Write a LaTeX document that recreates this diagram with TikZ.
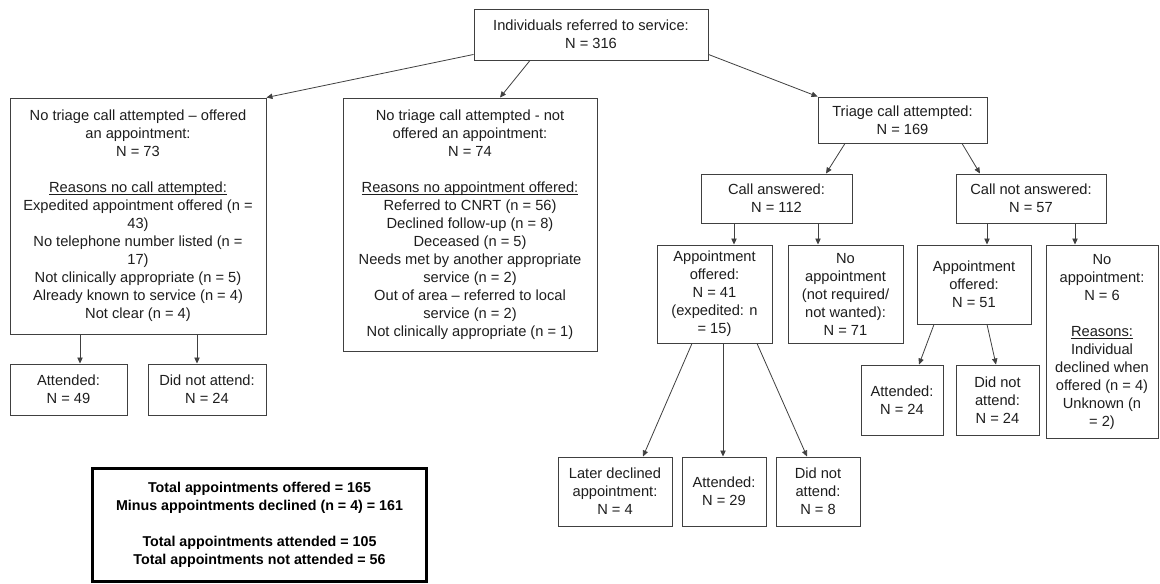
\documentclass[tikz,border=0pt]{standalone}
\usepackage{fontspec}
\setmainfont{Liberation Sans}
\usepackage{tikz}
\usetikzlibrary{calc,arrows.meta}
\definecolor{ink}{HTML}{1E1E1E}
\definecolor{frame}{HTML}{404040}
\newcommand{\ulhead}[1]{\underline{\smash{#1}}}
\tikzset{
  box/.style={draw=frame, line width=0.7pt, fill=white, align=center, inner sep=1pt, text=ink, font=\fontsize{11}{13.5}\selectfont},
  sumbox/.style={draw=black, line width=2.4pt, fill=white, align=center, inner sep=1pt, text=black, font=\bfseries\fontsize{10.7}{13.5}\selectfont},
  arr/.style={draw=frame, line width=0.6pt, -{Triangle[length=4.5pt,width=4pt]}}
}

\begin{document}
\begin{tikzpicture}[x=0.75pt,y=-0.75pt]
\path[fill=white] (0,0) rectangle (1160,584);
\node[box, minimum width=175.5pt, minimum height=38.25pt] (root) at (591,34.5) {Individuals referred to service:\\N = 316};
\node[box, minimum width=192pt, minimum height=177pt] (notri) at (138,216) {No triage call attempted – offered\\an appointment:\\N = 73\\[13.5pt]\ulhead{Reasons no call attempted:}\\Expedited appointment offered (n =\\43)\\No telephone number listed (n =\\17)\\Not clinically appropriate (n = 5)\\Already known to service (n = 4)\\Not clear (n = 4)};
\node[box, minimum width=190.5pt, minimum height=189.75pt] (noappt) at (470,224.5) {No triage call attempted - not\\offered an appointment:\\N = 74\\[13.5pt]\ulhead{Reasons no appointment offered:}\\Referred to CNRT (n = 56)\\Declined follow-up (n = 8)\\Deceased (n = 5)\\Needs met by another appropriate\\service (n = 2)\\Out of area – referred to local\\service (n = 2)\\Not clinically appropriate (n = 1)};
\node[box, minimum width=126.75pt, minimum height=34.5pt] (triage) at (902.5,120) {Triage call attempted:\\N = 169};
\node[box, minimum width=113.25pt, minimum height=36.75pt] (answered) at (776.5,198.5) {Call answered:\\N = 112};
\node[box, minimum width=112.5pt, minimum height=36.75pt] (unanswered) at (1031,198.5) {Call not answered:\\N = 57};
\node[box, minimum width=86.25pt, minimum height=73.5pt] (offeredA) at (714.5,294) {Appointment\\offered:\\N = 41\\(expedited: n\\= 15)};
\node[box, minimum width=86.25pt, minimum height=73.5pt] (notwanted) at (845.5,294) {No\\appointment\\(not required/\\not wanted):\\N = 71};
\node[box, minimum width=85.5pt, minimum height=59.25pt] (offeredB) at (974,284.5) {Appointment\\offered:\\N = 51};
\node[box, minimum width=84pt, minimum height=144.75pt] (noapptB) at (1102,341.5) {No\\appointment:\\N = 6\\[13.5pt]\ulhead{Reasons:}\\Individual\\declined when\\offered (n = 4)\\Unknown (n\\= 2)};
\node[box, minimum width=61.5pt, minimum height=52.5pt] (attB) at (902,400) {Attended:\\N = 24};
\node[box, minimum width=62.25pt, minimum height=52.5pt] (dnaB) at (997.5,400) {Did not\\attend:\\N = 24};
\node[box, minimum width=85.5pt, minimum height=51.75pt] (declined) at (615,491.5) {Later declined\\appointment:\\N = 4};
\node[box, minimum width=63pt, minimum height=51.75pt] (attF) at (724,491.5) {Attended:\\N = 29};
\node[box, minimum width=63pt, minimum height=51.75pt] (dnaF) at (818,491.5) {Did not\\attend:\\N = 8};
\node[box, minimum width=87.75pt, minimum height=38.25pt] (attA) at (68.5,389.5) {Attended:\\N = 49};
\node[box, minimum width=88.5pt, minimum height=38.25pt] (dnaA) at (207,389.5) {Did not attend:\\N = 24};
\node[sumbox, minimum width=250.5pt, minimum height=85pt] (totals) at (259.5,525) {Total appointments offered = 165\\Minus appointments declined (n = 4) = 161\\[13.5pt]Total appointments attended = 105\\Total appointments not attended = 56};
\draw[arr] ($(root.south west)+(0,-6)$) -- (notri.north east);
\draw[arr] ($(root.south east)+(0,-6)$) -- (triage.north west);
\foreach \src/\sx/\dst/\dx in {root/-61/noappt/30, triage/-57.5/answered/49.5, triage/59.5/unanswered/-51, offeredB/-40/attB/17, offeredB/13/dnaB/-1.5, offeredA/-22.5/declined/28, offeredA/8.5/attF/-1, offeredA/42.5/dnaF/-11}
  \draw[arr] ($(\src.south)+(\sx,0)$) -- ($(\dst.north)+(\dx,0)$);
\foreach \src/\dst/\dx in {answered/offeredA/19.5, answered/notwanted/-27.5, unanswered/offeredB/13, unanswered/noapptB/-27, notri/attA/11.5, notri/dnaA/-10}
  \draw[arr] ($(\dst.north |- \src.south)+(\dx,0)$) -- ($(\dst.north)+(\dx,0)$);
\end{tikzpicture}
\end{document}
